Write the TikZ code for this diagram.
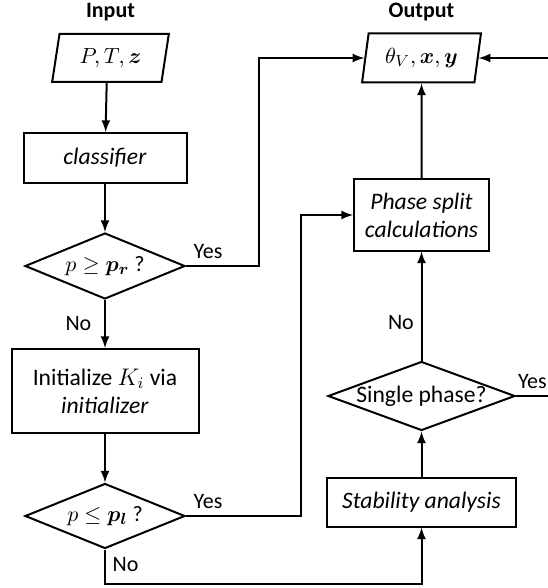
\documentclass[tikz,border=0pt]{standalone}
\usepackage{fontspec}
\setmainfont{Carlito}
\usepackage{amsmath, amssymb}
\usepackage{bm}
\usetikzlibrary{shapes.geometric, arrows}
\tikzstyle{io} = [trapezium, 
trapezium left angle=77, 
trapezium right angle=103, 
trapezium stretches=true, 
minimum width=58.5pt, 
minimum height=24pt, 
inner sep=0pt, 
text centered, 
draw=black, line width=1pt]
\tikzstyle{process} = [rectangle, 
minimum width=81.5pt, 
minimum height=25pt, 
text centered, align=center, 
font=\fontsize{11.8}{14}\selectfont, 
draw=black, line width=1pt]
\tikzstyle{decision} = [diamond, 
aspect=2.7, 
minimum width=80pt, 
minimum height=33pt, 
inner sep=0pt, 
text centered, 
draw=black, line width=1pt]
\tikzstyle{title} = [font=\fontsize{11}{13}\selectfont\bfseries]
\tikzstyle{arrow} = [line width=1pt,->,>=latex]

\begin{document}
\begin{tikzpicture}[node distance=50pt, font=\fontsize{11}{13}\selectfont]
  \useasboundingbox (0,0) rectangle (273.5pt,-294pt);

  \node (in) [io] at (55.25pt,-29pt) {$P, T, \bm{z}$};
  \node (inlabel) [title, above of=in, node distance=23pt] {Input};
  \node (classif) [process, below of=in, xshift=-2.75pt] {\textit{classifier}};
  \node (dec1) [decision, below of=classif, node distance=54pt] {$p \geq \bm{p_r}$ ?};
  \node (init) [process, below of=dec1, node distance=62.5pt, minimum width=93.5pt, minimum height=42pt] {Initialize $K_i$ via\\ \textit{initializer}};
  \node (dec2) [decision, below of=init, node distance=62.5pt, minimum height=32.5pt] {$p \leq \bm{p_l}$ ?};

  \node (out) [io, right of=in, node distance=155.5pt, minimum width=59.5pt, minimum height=24.5pt] {$\theta_V, \bm{x}, \bm{y}$};
  \node (outlabel) [title, above of=out, node distance=23pt] {Output};
  \node (split) [process, below of=out, node distance=78.5pt, minimum width=67.5pt, minimum height=35.5pt] {\textit{Phase split}\\ \textit{calculations}};
  \node (single) [decision, below of=split, node distance=90.5pt, minimum width=93.5pt, minimum height=34.5pt, font=\fontsize{11.8}{14}\selectfont] {Single phase?};
  \node (stab) [process, below of=single, node distance=53pt, minimum width=94.5pt, minimum height=24.5pt] {\textit{Stability analysis}};

  \draw [arrow] (in.bottom side) -- (classif);
  \draw [arrow] (classif) -- (dec1);
  \draw [arrow] (dec1) -- node[anchor=east, xshift=-3pt] {No} (init);
  \draw [arrow] (init) -- (dec2);
  \draw [arrow] (dec1.east) -- node[anchor=south west, pos=0] {Yes} ++(36.5pt,0) |- (out.west);
  \draw [arrow] (dec2.east) -- node[anchor=south west, pos=0] {Yes} ++(57.5pt,0) |- (split.west);
  \draw [arrow] (dec2.south) -- node[anchor=north west, pos=0] {No} ++(0,-17.25pt) -| (stab.south);
  \draw [arrow] (stab) -- (single);
  \draw [arrow] (single) -- node[anchor=east, pos=0.35] {No} (split);
  \draw [arrow] (split) -- (out);
  \draw [arrow] (single.east) -- node[anchor=south west, pos=0, inner xsep=0.5pt] {Yes} ++(17pt,0) |- (out.east);

\end{tikzpicture}
\end{document}
